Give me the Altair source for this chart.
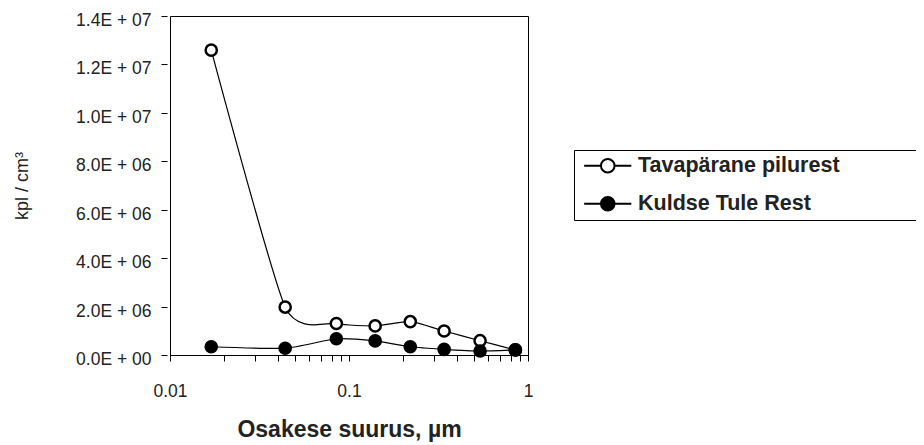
import altair as alt
import pandas as pd

# particle size (µm) and number concentrations (kpl / cm3)
size_um = [0.017, 0.044, 0.085, 0.14, 0.22, 0.34, 0.54, 0.85]
tavaparane = [12.59e6, 1.98e6, 1.30e6, 1.20e6, 1.375e6, 0.99e6, 0.59e6, 0.21e6]
kuldse = [0.34e6, 0.28e6, 0.67e6, 0.58e6, 0.34e6, 0.235e6, 0.165e6, 0.21e6]
series_names = ["Tavapärane pilurest", "Kuldse Tule Rest"]

x_ticks = [0.01, 0.02, 0.03, 0.04, 0.05, 0.06, 0.07, 0.08, 0.09,
           0.1, 0.2, 0.3, 0.4, 0.5, 0.6, 0.7, 0.8, 0.9, 1]
y_ticks = [0, 2e6, 4e6, 6e6, 8e6, 10e6, 12e6, 14e6]

rows = []
for name, vals in zip(series_names, [tavaparane, kuldse]):
    for x, y in zip(size_um, vals):
        rows.append({"size": x, "value": y, "series": name})
df = pd.DataFrame(rows)

PAD = "\u00a0" * 26 + "\u200b"
legend_path = ("M-2.95,0L-0.85,0M0.85,0L2.95,0"
               "M-0.85,0A0.85,0.85,0,1,1,0.85,0A0.85,0.85,0,1,1,-0.85,0Z")

xscale = alt.Scale(type="log", domain=[0.01, 1], nice=False)
yscale = alt.Scale(domain=[0, 1.4e7], nice=False)

xaxis = alt.Axis(
    values=x_ticks,
    labelExpr="datum.value == 0.01 ? '0.01' : datum.value == 0.1 ? '0.1' : datum.value == 1 ? '1' : ''",
    tickSize=6, labelPadding=35, labelBaseline="alphabetic",
    labelFontSize=17.5, labelFlush=False, labelOverlap=False,
    title="Osakese suurus, µm", titleFontSize=23, titleFontWeight="bold",
    titleY=81.5, titleBaseline="alphabetic", grid=False,
)
yaxis = alt.Axis(
    values=y_ticks,
    labelExpr="replace(upper(format(datum.value, '.1e')), 'E+', 'E + 0')",
    offset=3, domain=False, tickSize=6, labelPadding=10, labelFontSize=17.5,
    labelBaseline="alphabetic", labelOffset=9.5,
    title="kpl / cm³", titleFontSize=18, titleFontWeight="normal",
    titleX=-140, titleY=169.5, titleBaseline="alphabetic", titleAngle=270,
    grid=False,
)

base = alt.Chart(df)

lines = base.mark_line(color="black", strokeWidth=1.2, interpolate="cardinal",
                       tension=0.4).encode(
    x=alt.X("size:Q", scale=xscale, axis=xaxis),
    y=alt.Y("value:Q", scale=yscale, axis=yaxis),
    detail="series:N",
)

points = base.mark_point(shape="circle", size=125, strokeWidth=2.5,
                         stroke="black", opacity=1).encode(
    x=alt.X("size:Q", scale=xscale),
    y=alt.Y("value:Q", scale=yscale),
    fill=alt.Fill(
        "series:N",
        scale=alt.Scale(domain=series_names, range=["white", "black"]),
        legend=alt.Legend(
            title=None, orient="none", legendX=404, legendY=134,
            padding=5, strokeColor="black", fillColor="white",
            labelFontSize=21.5, labelFontWeight="bold", labelLimit=1000,
            labelExpr="datum.label + '" + PAD + "'",
            rowPadding=15, symbolOffset=18, labelOffset=19.5,
            symbolType=legend_path, symbolSize=256, symbolStrokeWidth=2,
            symbolStrokeColor="black", symbolOpacity=1,
        ),
    ),
)

chart = alt.layer(lines, points).properties(
    width=358, height=339,
    autosize=alt.AutoSizeParams(type="none"),
    padding={"left": 162, "top": 8, "right": 388, "bottom": 87},
).configure(
    font="Liberation Sans",
).configure_view(
    stroke="black", strokeWidth=1,
).configure_axis(
    domainColor="black", tickColor="black", labelColor="#222222",
    titleColor="#222222", domainWidth=1, tickWidth=1,
).configure_legend(
    labelColor="#222222",
)

chart.save("out.html", embed_options={"renderer": "svg", "actions": False})
